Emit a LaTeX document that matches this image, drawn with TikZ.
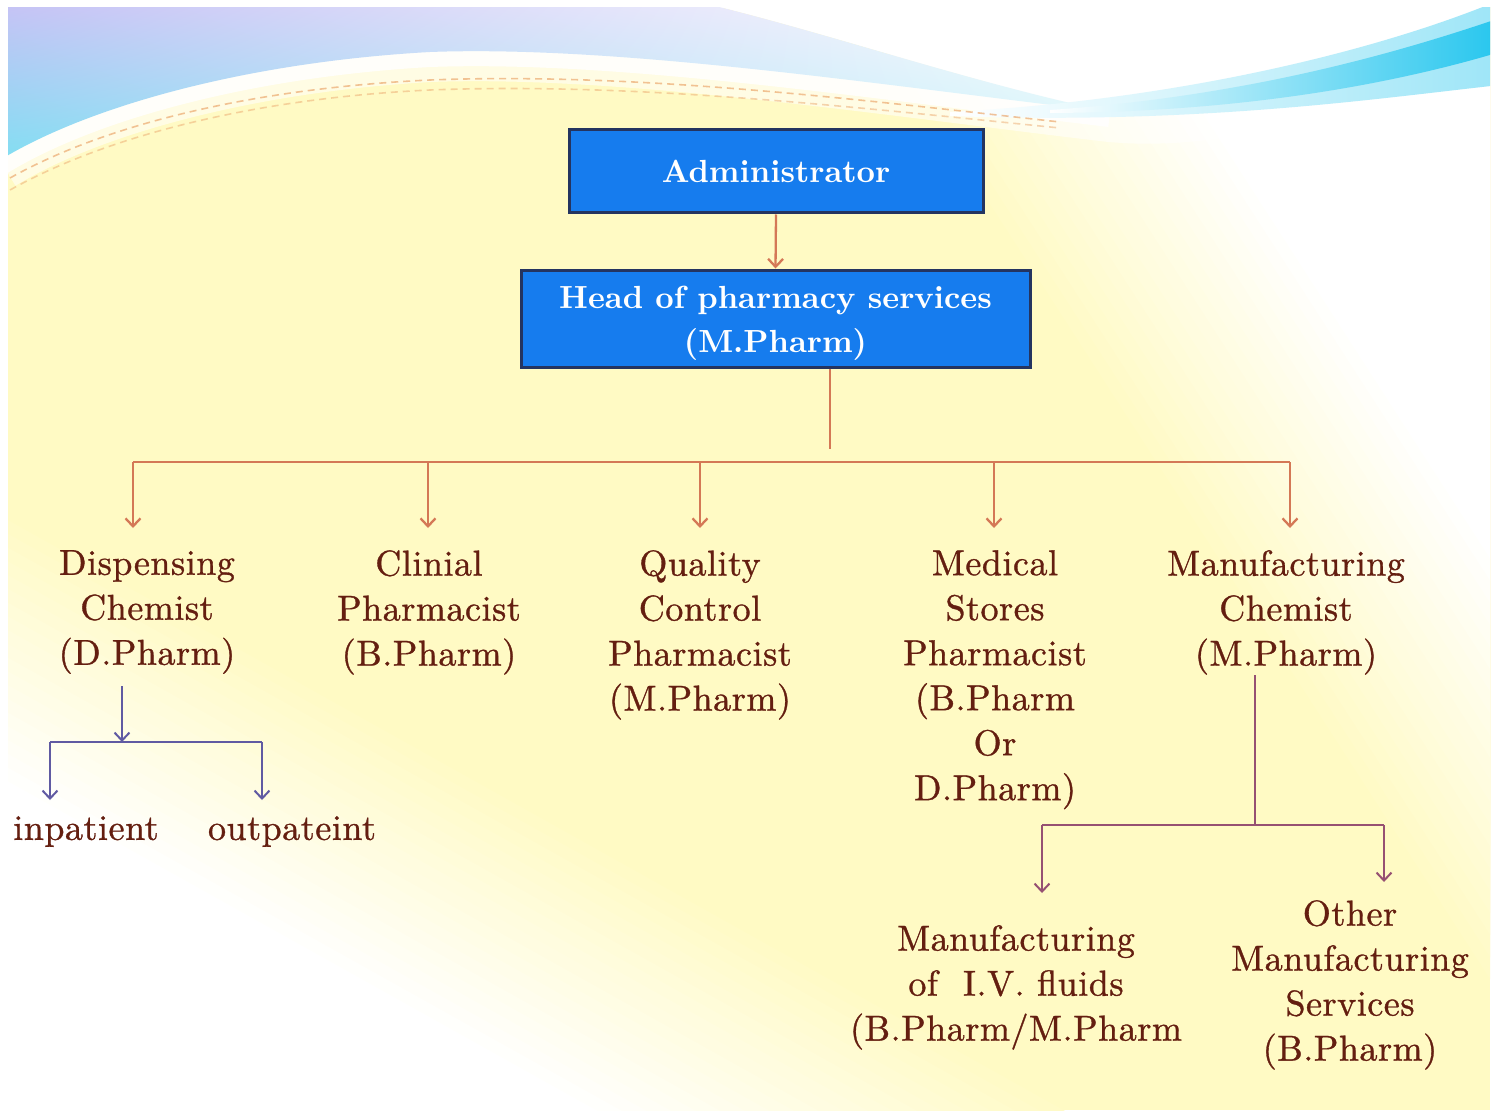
\documentclass[tikz,border=0pt]{standalone}
\usepackage{fontspec}
\usetikzlibrary{arrows.meta,calc,shadings}

\newfontfamily\rolefamily{lmroman10-regular.otf}[LetterSpace=1.5,FakeBold=0.9]
\newfontfamily\boxfamily{lmroman10-bold.otf}

\definecolor{boxblue}{RGB}{22,124,238}
\definecolor{boxedge}{RGB}{36,52,96}
\definecolor{roletext}{RGB}{100,30,16}
\definecolor{mainline}{RGB}{212,120,86}
\definecolor{subblue}{RGB}{96,90,162}
\definecolor{submauve}{RGB}{150,80,114}
\definecolor{glow}{RGB}{255,250,196}
\definecolor{lavender}{RGB}{200,194,245}
\definecolor{aqua}{RGB}{130,222,242}
\definecolor{paleaqua}{RGB}{215,245,250}
\definecolor{streak}{RGB}{38,198,238}
\definecolor{ribbon}{RGB}{236,170,112}

\newcommand\rolefont{\rolefamily\fontsize{36}{45}\selectfont}
\newcommand\boxfont{\boxfamily\fontsize{32}{44}\selectfont}

\tikzset{
  chartbox/.style={draw=boxedge, line width=3pt, fill=boxblue, text=white,
                   font=\boxfont, align=center, inner sep=0pt},
  role/.style={text=roletext, font=\rolefont, align=center, inner sep=0pt, anchor=north},
  barb/.style={-{Straight Barb[length=8pt,width=15pt]}},
  trunk/.style={draw=mainline, line width=2.3pt},
  leftsub/.style={draw=subblue, line width=2pt},
  rightsub/.style={draw=submauve, line width=2pt},
}

\begin{document}
\begin{tikzpicture}[x=1pt,y=-1pt]
\useasboundingbox (0,0) rectangle (1498,1115);
\fill[white] (0,0) rectangle (1498,1115);

% ---------- slide background ----------
\begin{scope}
  \clip (8,8) rectangle (1490,1110);
  \fill[glow] (8,8) rectangle (1490,1110);

  % warm band fading to white towards the lower left corner
  \coordinate (llc) at (425,877);
  \coordinate (lld) at (0.873,0.488);
  \coordinate (lln) at (-0.488,0.873);
  \coordinate (llb) at ($(llc)-120*(lln)$);
  \foreach \k in {1,...,20} {
    \pgfmathtruncatemacro\t{12*\k}
    \pgfmathtruncatemacro\p{100-5*\k}
    \fill[glow!\p!white] ($(llb)+\t*(lln)-2500*(lld)$) -- ($(llb)+\t*(lln)+2500*(lld)$)
      -- ($(llb)+\t*(lln)+2500*(lld)+2500*(lln)$) -- ($(llb)+\t*(lln)-2500*(lld)+2500*(lln)$) -- cycle;
  }

  % ... and towards the upper right corner
  \coordinate (urc) at (1285,462);
  \coordinate (urd) at (0.542,0.840);
  \coordinate (urn) at (0.840,-0.542);
  \coordinate (urb) at ($(urc)-120*(urn)$);
  \foreach \k in {1,...,20} {
    \pgfmathtruncatemacro\t{12*\k}
    \pgfmathtruncatemacro\p{100-5*\k}
    \fill[glow!\p!white] ($(urb)+\t*(urn)-2500*(urd)$) -- ($(urb)+\t*(urn)+2500*(urd)$)
      -- ($(urb)+\t*(urn)+2500*(urd)+2500*(urn)$) -- ($(urb)+\t*(urn)-2500*(urd)+2500*(urn)$) -- cycle;
  }

  % white glow under the top wave
  \draw[white, line width=60pt, opacity=0.55]
    (0,160) .. controls (90,105) and (250,62) .. (430,52)
    .. controls (620,45) and (880,85) .. (1110,112)
    .. controls (1250,125) and (1400,60) .. (1500,10);
  \draw[white, line width=30pt, opacity=0.85]
    (0,160) .. controls (90,105) and (250,62) .. (430,52)
    .. controls (620,45) and (880,85) .. (1110,112);

  % white sky between the wave and the streak
  \fill[white] (690,0) .. controls (820,30) and (960,80) .. (1110,112)
    .. controls (1250,100) and (1400,50) .. (1500,0) -- cycle;

  % top wave
  \shade[upper left=lavender, upper right=white, lower left=aqua, lower right=paleaqua]
    (0,0) -- (690,0) .. controls (820,30) and (960,80) .. (1110,112)
    .. controls (880,85) and (620,45) .. (430,52)
    .. controls (250,62) and (90,105) .. (0,160) -- cycle;

  % cyan streak on the right
  \shade[left color=white, right color=streak!45!white]
    (950,112) .. controls (1180,100) and (1380,50) .. (1500,0) -- (1500,85)
    .. controls (1380,98) and (1200,125) .. (950,116) -- cycle;
  \shade[left color=white, right color=streak]
    (1050,110) .. controls (1250,96) and (1400,52) .. (1500,18) -- (1500,52)
    .. controls (1400,82) and (1250,112) .. (1050,113) -- cycle;

  % dashed ribbons
  \draw[ribbon, line width=1.6pt, dash pattern=on 7pt off 5pt, opacity=0.7]
    (10,178) .. controls (110,122) and (260,88) .. (430,80)
    .. controls (640,72) and (860,100) .. (1060,122);
  \draw[ribbon, line width=1.6pt, dash pattern=on 7pt off 5pt, opacity=0.5]
    (10,190) .. controls (110,134) and (260,98) .. (430,90)
    .. controls (640,82) and (860,108) .. (1060,128);
\end{scope}

% ---------- chart ----------
\node[chartbox, minimum width=414pt, minimum height=83pt] (admin) at (776,171.5) {Administrator};
\node[chartbox, minimum width=509pt, minimum height=97pt] (head) at (775.5,318.5)
  {\rule{0pt}{32pt}Head of pharmacy services\\(M.Pharm)};

\node[role] (disp) at (147,550) {Dispensing\\Chemist\\(D.Pharm)};
\node[role] (clin) at (429,550) {Clinial\\Pharmacist\\(B.Pharm)};
\node[role] (qc)   at (700,550) {Quality\\Control\\Pharmacist\\(M.Pharm)};
\node[role] (ms)   at (995,550) {Medical\\Stores\\Pharmacist\\(B.Pharm\\Or\\D.Pharm)};
\node[role] (mfg)  at (1286,550) {Manufacturing\\Chemist\\(M.Pharm)};

\node[role] (inp)  at (86,816)  {inpatient};
\node[role] (outp) at (292,816) {outpateint};

\node[role] (ivf)  at (1016,925) {Manufacturing\\of~ I.V. fluids\\(B.Pharm/M.Pharm};
\node[role] (oth)  at (1350,900) {Other\\Manufacturing\\Services\\(B.Pharm)};

% connector points
\coordinate (hb) at (830,449);
\coordinate (busL) at (133,462);
\coordinate (busR) at (1290,462);
\coordinate (tdisp) at (133,528);
\coordinate (tclin) at (428,528);
\coordinate (tqc) at (700,528);
\coordinate (tms) at (994,528);
\coordinate (tmfg) at (1290,528);

\coordinate (dsTop) at (122,686);
\coordinate (dsJ) at (122,742);
\coordinate (dsL) at (50,742);
\coordinate (dsR) at (262,742);
\coordinate (tinp) at (50,800);
\coordinate (toutp) at (262,800);

\coordinate (mfTop) at (1255,675);
\coordinate (mfJ) at (1255,825);
\coordinate (mfL) at (1042,825);
\coordinate (mfR) at (1384,825);
\coordinate (tivf) at (1042,893);
\coordinate (toth) at (1384,882);

% connectors
\draw[trunk, barb] (admin.south) -- (head.north);
\draw[trunk] (head.south -| hb) -- (hb);
\draw[trunk] (busL) -- (busR);
\foreach \p in {tdisp,tclin,tqc,tms,tmfg}
  \draw[trunk, barb] (busL -| \p) -- (\p);

\draw[leftsub, barb] (dsTop) -- (dsJ);
\draw[leftsub] (dsL) -- (dsR);
\draw[leftsub, barb] (dsL) -- (tinp);
\draw[leftsub, barb] (dsR) -- (toutp);

\draw[rightsub] (mfTop) -- (mfJ);
\draw[rightsub] (mfL) -- (mfR);
\draw[rightsub, barb] (mfL) -- (tivf);
\draw[rightsub, barb] (mfR) -- (toth);
\end{tikzpicture}
\end{document}
